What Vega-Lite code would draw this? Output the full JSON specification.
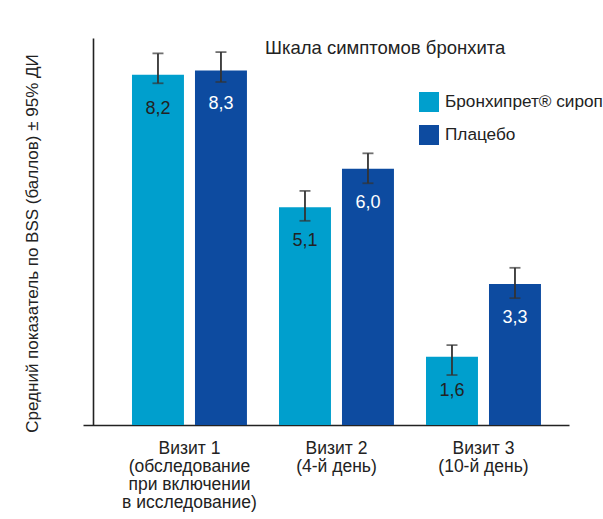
{
  "$schema": "https://vega.github.io/schema/vega-lite/v6.json",
  "width": 486,
  "height": 387,
  "autosize": {"type": "none"},
  "padding": {"left": 83, "top": 38, "right": 34, "bottom": 94},
  "background": "white",
  "config": {
    "font": "Liberation Sans",
    "view": {"stroke": null}
  },
  "title": {
    "text": "Шкала симптомов бронхита",
    "anchor": "start",
    "frame": "group",
    "dx": 182,
    "dy": 23,
    "fontSize": 18.5,
    "fontWeight": "normal",
    "font": "Liberation Sans",
    "color": "#222222"
  },
  "data": {
    "values": [
      {"visit": "Визит 1|(обследование|при включении|в исследование)", "group": "Бронхипрет® сироп", "value": 8.2, "lo": 8.0, "hi": 8.7, "label": "8,2"},
      {"visit": "Визит 1|(обследование|при включении|в исследование)", "group": "Плацебо", "value": 8.3, "lo": 8.03, "hi": 8.73, "label": "8,3"},
      {"visit": "Визит 2|(4-й день)", "group": "Бронхипрет® сироп", "value": 5.1, "lo": 4.78, "hi": 5.48, "label": "5,1"},
      {"visit": "Визит 2|(4-й день)", "group": "Плацебо", "value": 6.0, "lo": 5.66, "hi": 6.36, "label": "6,0"},
      {"visit": "Визит 3|(10-й день)", "group": "Бронхипрет® сироп", "value": 1.6, "lo": 1.17, "hi": 1.87, "label": "1,6"},
      {"visit": "Визит 3|(10-й день)", "group": "Плацебо", "value": 3.3, "lo": 2.97, "hi": 3.68, "label": "3,3"}
    ]
  },
  "encoding": {
    "x": {
      "field": "visit",
      "type": "nominal",
      "sort": null,
      "scale": {"paddingInner": 0.218, "paddingOuter": 0.262, "align": 0.636},
      "axis": {
        "title": null,
        "labelAngle": 0,
        "labelExpr": "split(datum.label, '|')",
        "labelFontSize": 17.5,
        "labelLineHeight": 18,
        "labelColor": "#222222",
        "labelPadding": 14,
        "labelFont": "Liberation Sans",
        "ticks": false,
        "domainColor": "#222222",
        "domainWidth": 1.6,
        "labelLimit": 300
      }
    },
    "xOffset": {
      "field": "group",
      "type": "nominal",
      "scale": {"domain": ["Бронхипрет® сироп", "Плацебо"], "paddingInner": 0.175, "paddingOuter": 0}
    }
  },
  "layer": [
    {
      "mark": {"type": "bar"},
      "encoding": {
        "y": {
          "field": "value",
          "type": "quantitative",
          "scale": {"domain": [0, 9.06], "nice": false, "zero": true},
          "axis": {
            "title": "Средний показатель по BSS (баллов) ± 95% ДИ",
            "titleFontSize": 17,
            "titleFontWeight": "normal",
            "titleColor": "#222222",
            "titleFont": "Liberation Sans",
            "titlePadding": 52,
            "titleY": 205,
            "labels": false,
            "ticks": false,
            "grid": false,
            "domainColor": "#222222",
            "domainWidth": 1.6,
            "offset": -10
          }
        },
        "color": {
          "field": "group",
          "type": "nominal",
          "scale": {"domain": ["Бронхипрет® сироп", "Плацебо"], "range": ["#009fcd", "#0d4ba0"]},
          "legend": {
            "title": null,
            "orient": "none",
            "legendX": 336,
            "legendY": 54,
            "symbolType": "square",
            "symbolSize": 400,
            "symbolStrokeWidth": 0,
            "labelFontSize": 17.2,
            "labelFont": "Liberation Sans",
            "labelColor": "#222222",
            "labelOffset": 6,
            "rowPadding": 13,
            "labelLimit": 300,
            "padding": 0
          }
        }
      }
    },
    {
      "mark": {"type": "rule", "color": "#333333", "strokeWidth": 1.8},
      "encoding": {
        "y": {"field": "lo", "type": "quantitative"},
        "y2": {"field": "hi"}
      }
    },
    {
      "mark": {"type": "tick", "color": "#333333", "thickness": 1.8, "size": 11},
      "encoding": {
        "y": {"field": "lo", "type": "quantitative"}
      }
    },
    {
      "mark": {"type": "tick", "color": "#333333", "thickness": 1.8, "size": 11},
      "encoding": {
        "y": {"field": "hi", "type": "quantitative"}
      }
    },
    {
      "mark": {"type": "text", "baseline": "middle", "dy": 34, "fontSize": 18, "font": "Liberation Sans"},
      "encoding": {
        "y": {"field": "value", "type": "quantitative"},
        "text": {"field": "label"},
        "color": {
          "condition": {"test": "datum.group === 'Плацебо'", "value": "white"},
          "value": "#222222"
        }
      }
    }
  ]
}
